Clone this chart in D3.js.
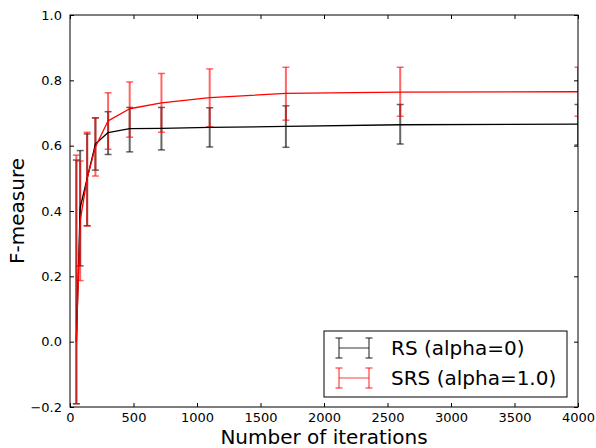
<!DOCTYPE html>
<html>
  <head>
    <meta charset="utf-8" />
    <title>F-measure vs iterations</title>
    <script src="https://cdn.jsdelivr.net/npm/d3@7"></script>
    <style>
      html, body {
        margin: 0;
        padding: 0;
        background: white;
      }
      text {
        font-family: "DejaVu Sans", sans-serif;
        fill: black;
      }
      .tick text {
        font-size: 13px;
      }
      .axis-label {
        font-size: 20px;
        text-anchor: middle;
      }
      .legend text {
        font-size: 20px;
      }
    </style>
  </head>
<body>
<svg id="chart" width="596" height="448"></svg>

<script>

// iterations where the runs were measured
const iterations = [50, 80, 135, 200, 300, 470, 720, 1100, 1700, 2600, 4000];

// RS (alpha=0)
const rsMean  = [0.0, 0.41, 0.50, 0.605, 0.640, 0.652, 0.653, 0.656, 0.659, 0.664, 0.666];
const rsLow   = [-0.19, 0.232, 0.355, 0.525, 0.573, 0.581, 0.587, 0.596, 0.595, 0.605, 0.602];
const rsHigh  = [0.556, 0.585, 0.636, 0.685, 0.704, 0.717, 0.717, 0.716, 0.722, 0.726, 0.726];

// SRS (alpha=1.0)
const srsMean = [0.0, 0.37, 0.50, 0.596, 0.676, 0.713, 0.731, 0.747, 0.760, 0.764, 0.765];
const srsLow  = [-0.19, 0.187, 0.354, 0.507, 0.589, 0.626, 0.641, 0.658, 0.678, 0.690, 0.690];
const srsHigh = [0.571, 0.553, 0.641, 0.685, 0.762, 0.795, 0.821, 0.835, 0.840, 0.840, 0.840];

const xTicks = [0, 500, 1000, 1500, 2000, 2500, 3000, 3500, 4000];
const yTicks = [-0.2, 0.0, 0.2, 0.4, 0.6, 0.8, 1.0];

const seriesNames  = ["RS (alpha=0)", "SRS (alpha=1.0)"];
const seriesColors = ["black", "red"];

const margin = {left: 70, right: 18, top: 15, bottom: 41};
const width = 596, height = 448;

const svg = d3.select('#chart');

const x = d3.scaleLinear().domain([0, 4000]).range([margin.left, width - margin.right]);
const y = d3.scaleLinear().domain([-0.2, 1.0]).range([height - margin.bottom, margin.top]);

const series = [
  {name: seriesNames[0], color: seriesColors[0],
   pts: iterations.map((it, i) => ({x: it, m: rsMean[i], lo: rsLow[i], hi: rsHigh[i]}))},
  {name: seriesNames[1], color: seriesColors[1],
   pts: iterations.map((it, i) => ({x: it, m: srsMean[i], lo: srsLow[i], hi: srsHigh[i]}))}
];

svg.append('defs').append('clipPath')
   .attr('id', 'plot-clip')
   .append('rect')
   .attr('x', x(0)).attr('y', y(1.0))
   .attr('width', x(4000) - x(0))
   .attr('height', y(-0.2) - y(1.0));

const plot = svg.append('g').attr('clip-path', 'url(#plot-clip)');

const line = d3.line()
   .x(d => x(d.x))
   .y(d => y(d.m));

// error bars first, then lines on top
series.forEach(s => {
  const g = plot.append('g')
     .attr('stroke', s.color)
     .attr('stroke-opacity', 0.6);
  const bars = g.selectAll('g').data(s.pts).enter().append('g');
  bars.append('line')
      .attr('x1', d => x(d.x)).attr('x2', d => x(d.x))
      .attr('y1', d => y(d.lo)).attr('y2', d => y(d.hi))
      .attr('stroke-width', 2);
  bars.append('line')
      .attr('x1', d => x(d.x) - 3.5).attr('x2', d => x(d.x) + 3.5)
      .attr('y1', d => y(d.lo)).attr('y2', d => y(d.lo))
      .attr('stroke-width', 1.5);
  bars.append('line')
      .attr('x1', d => x(d.x) - 3.5).attr('x2', d => x(d.x) + 3.5)
      .attr('y1', d => y(d.hi)).attr('y2', d => y(d.hi))
      .attr('stroke-width', 1.5);
});

series.forEach(s => {
  plot.append('path')
      .datum(s.pts)
      .attr('fill', 'none')
      .attr('stroke', s.color)
      .attr('stroke-width', 1.3)
      .attr('stroke-linejoin', 'round')
      .attr('d', line);
});

// axes, ticks pointing inward on all four sides
const fmtY = d => d3.format('.1f')(d).replace('-', '\u2212');

svg.append('g')
   .attr('class', 'x-axis')
   .attr('transform', `translate(0, ${y(-0.2)})`)
   .call(d3.axisBottom(x).tickValues(xTicks).tickSize(-4).tickPadding(6).tickFormat(d3.format('d')));

svg.append('g')
   .attr('transform', `translate(0, ${y(1.0)})`)
   .call(d3.axisTop(x).tickValues(xTicks).tickSize(-4).tickFormat(''));

svg.append('g')
   .attr('class', 'y-axis')
   .attr('transform', `translate(${x(0)}, 0)`)
   .call(d3.axisLeft(y).tickValues(yTicks).tickSize(-4).tickPadding(8).tickFormat(fmtY));

svg.append('g')
   .attr('transform', `translate(${x(4000)}, 0)`)
   .call(d3.axisRight(y).tickValues(yTicks).tickSize(-4).tickFormat(''));

svg.selectAll('.domain').remove();
svg.selectAll('.tick line').attr('stroke', 'black');

svg.append('rect')
   .attr('x', x(0)).attr('y', y(1.0))
   .attr('width', x(4000) - x(0))
   .attr('height', y(-0.2) - y(1.0))
   .attr('fill', 'none')
   .attr('stroke', 'black')
   .attr('stroke-width', 1);

svg.append('text')
   .attr('class', 'axis-label')
   .attr('x', (x(0) + x(4000)) / 2)
   .attr('y', 444)
   .text('Number of iterations');

svg.append('text')
   .attr('class', 'axis-label')
   .attr('transform', `translate(24, ${(y(-0.2) + y(1.0)) / 2}) rotate(-90)`)
   .text('F-measure');

// legend
const legend = svg.append('g').attr('class', 'legend');
legend.append('rect')
   .attr('x', 324).attr('y', 331)
   .attr('width', 243).attr('height', 66)
   .attr('fill', 'white')
   .attr('stroke', 'black');

series.forEach((s, i) => {
  const cy = 348 + i * 30;
  const g = legend.append('g')
     .attr('stroke', s.color)
     .attr('stroke-opacity', 0.6);
  g.append('line').attr('x1', 339).attr('x2', 369).attr('y1', cy).attr('y2', cy).attr('stroke-width', 1.3);
  [339, 369].forEach(hx => {
    g.append('line').attr('x1', hx).attr('x2', hx).attr('y1', cy - 10).attr('y2', cy + 10).attr('stroke-width', 1.5);
    g.append('line').attr('x1', hx - 3.5).attr('x2', hx + 3.5).attr('y1', cy - 10).attr('y2', cy - 10).attr('stroke-width', 1.5);
    g.append('line').attr('x1', hx - 3.5).attr('x2', hx + 3.5).attr('y1', cy + 10).attr('y2', cy + 10).attr('stroke-width', 1.5);
  });
  legend.append('text')
     .attr('x', 391)
     .attr('y', cy + 7)
     .text(s.name);
});

</script>
</body>
</html>
